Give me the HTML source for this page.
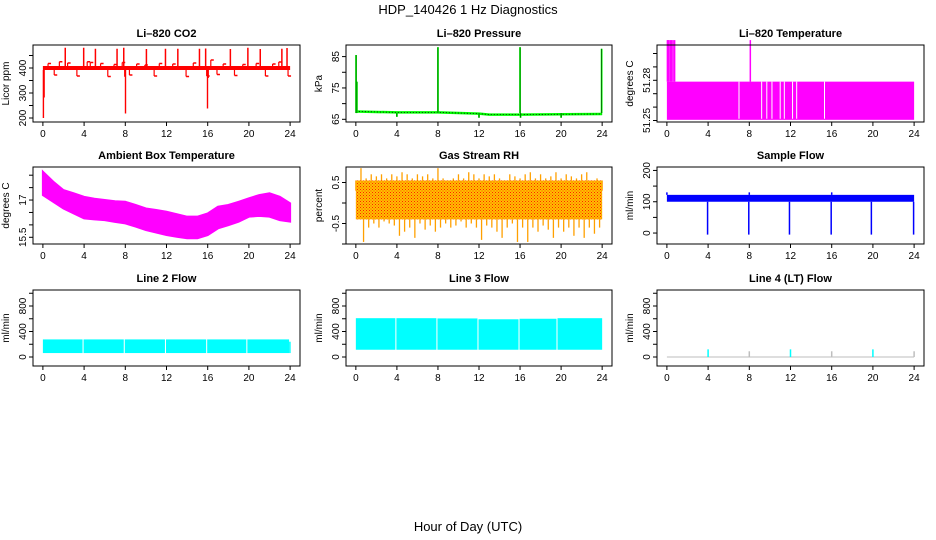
<!DOCTYPE html>
<html><head><meta charset="utf-8"><style>
html,body{margin:0;padding:0;background:#fff}
svg{display:block}
text{font-family:"Liberation Sans",Arial,sans-serif;fill:#000}
</style></head><body>
<svg id="c" width="936" height="540" viewBox="0 0 936 540">
<defs>
<pattern id="rhPat" width="3" height="3" patternUnits="userSpaceOnUse">
<rect width="3" height="3" fill="#ffc000"/><rect width="1" height="1" fill="#ff2000"/><rect x="1.5" y="1.5" width="1" height="1" fill="#ff4000"/>
</pattern>
</defs>
<text x="468" y="14" font-size="13" text-anchor="middle">HDP_140426  1 Hz Diagnostics</text>
<text x="468" y="531" font-size="13" text-anchor="middle">Hour of Day (UTC)</text>
</svg>
<script>
// ---- data ----
const xTicks = [0,4,8,12,16,20,24];
// CO2
const co2BandLow = 392, co2BandHigh = 408;
const co2SpikeHours = [2.17,3.96,5.1,7.2,7.85,10.05,11.9,13.1,15.2,15.8,18.2,19.9,21.1,23.2,23.7];
const co2SpikeValues = [481,481,477,477,481,476,477,477,477,478,476,481,476,477,480];
const co2BumpHours = [0.5,1.1,1.6,2.4,3.3,4.3,4.6,5.6,6.3,6.9,7.7,8.4,9.1,9.9,10.8,11.3,12.6,13.9,14.6,15.9,16.3,16.9,17.5,18.6,19.4,20.7,21.6,22.3,22.9,23.8];
const co2BumpValues = [418,372,425,420,368,425,422,418,366,414,422,372,416,412,368,418,416,366,420,368,432,374,416,370,414,418,368,416,424,368];
const co2DownHours = [0.05,0.12,8.02,15.98,7.95,16.05];
const co2DownValues = [200,282,218,238,365,360];
// Pressure
const pHours = [0,4,8,12,13,16,20,24];
const pValues = [67.5,67.2,67.2,66.8,66.5,66.5,66.6,66.7];
const pSpikeHours = [0.02,0.1,8.0,16.0,23.95,4.0,12.0,16.05,20.0];
const pSpikeValues = [85.5,77,88,88,87.5,65.8,65.5,65.5,65.5];
// Li-820 temperature
const tLow = 51.2505, tHigh = 51.279;
const tGapHours = [7.0,9.2,9.7,10.2,11.0,11.4,12.2,12.6,15.3];
const tSpikeHours = [0.05,0.12,0.2,0.35,0.45,0.6,0.75,8.1];
const tSpikeValues = [51.31,51.31,51.31,51.31,51.31,51.31,51.31,51.31];
// Ambient box temperature (hourly envelope)
const ambUpper = [18.14,17.74,17.40,17.27,17.13,17.05,17.0,16.95,16.93,16.8,16.66,16.6,16.53,16.43,16.33,16.33,16.46,16.73,16.80,16.93,17.07,17.20,17.27,17.13,16.87];
const ambLower = [17.2,16.93,16.66,16.46,16.26,16.22,16.19,16.12,16.06,15.93,15.79,15.69,15.59,15.52,15.46,15.46,15.59,15.86,15.99,16.13,16.33,16.36,16.33,16.19,16.13];
// Gas stream RH (half-hourly extremes)
const rhCoreLow = -0.4, rhCoreHigh = 0.55;
const rhUpper = [0.3,0.85,0.6,0.7,0.65,0.7,0.6,0.7,0.65,0.75,0.7,0.6,0.7,0.65,0.7,0.6,0.85,0.6,0.55,0.6,0.7,0.6,0.75,0.7,0.6,0.7,0.65,0.7,0.6,0.55,0.7,0.65,0.6,0.7,0.75,0.6,0.7,0.6,0.65,0.75,0.6,0.7,0.65,0.6,0.7,0.75,0.55,0.6,0.3];
const rhLower = [-0.4,-0.95,-0.6,-0.5,-0.6,-0.45,-0.5,-0.55,-0.8,-0.7,-0.6,-0.85,-0.5,-0.65,-0.55,-0.7,-0.6,-0.5,-0.6,-0.55,-0.45,-0.6,-0.5,-0.6,-0.9,-0.55,-0.6,-0.7,-0.85,-0.6,-0.5,-0.95,-0.6,-0.95,-0.6,-0.7,-0.55,-0.65,-0.85,-0.6,-0.7,-0.6,-0.8,-0.6,-0.85,-0.6,-0.75,-0.6,-0.4];
// Sample flow
const sfLow = 100, sfHigh = 122;
const sfDropHours = [3.95,7.95,11.9,15.95,19.85,23.95];
const sfDropValues = [-5,-5,-5,-5,-5,-5];
const sfPeakHours = [0,8,16];
const sfPeakValues = [130,130,130];
// Line 2 flow
const l2Starts = [0,3.95,7.95,11.95,15.95,19.85];
const l2Ends = [3.85,7.85,11.85,15.85,19.75,23.9];
const l2Top = [276,276,276,276,276,276];
const l2Bottom = [62,62,62,62,62,62];
// Line 3 flow
const l3Starts = [0,3.95,7.95,11.95,15.95,19.65];
const l3Ends = [3.85,7.85,11.85,15.85,19.55,24];
const l3Top = [609,609,605,592,600,609];
const l3Bottom = [114,114,114,114,114,114];
// Line 4 flow
const l4SpikeHours = [4,12,20,8,16,24];
const l4SpikeValues = [120,120,120,90,90,90];

// ---- drawing ----
const svg = document.getElementById('c');
const NS = 'http://www.w3.org/2000/svg';
function mk(tag, at, parent){const e=document.createElementNS(NS,tag);for(const k in at)e.setAttribute(k,at[k]);(parent||svg).appendChild(e);return e;}
const colX = [[33,300],[346,612],[657,924]];
const rowY = [[45,122],[167,244],[290,366]];

function panel(c,r,name,title,ylab,yMin,yMax,yTicks,yLabels){
  const [x0,x1]=colX[c],[y0,y1]=rowY[r];
  const g=mk('g',{});
  
  
  const dx0=x0+(x1-x0)*0.96/25.92;
  const sx=h=>dx0+h*(x1-x0)/25.92;
  const sy=v=>y1-(v-yMin)/(yMax-yMin)*(y1-y0);
  const t=mk('text',{x:(x0+x1)/2,y:y0-8,'font-size':11,'font-weight':'bold','text-anchor':'middle'},g);
  t.textContent=title;
  
  
  const yl=mk('text',{x:0,y:0,'font-size':10,'text-anchor':'middle',transform:`translate(${x0-24},${(y0+y1)/2}) rotate(-90)`},g);
  yl.textContent=ylab;
  
  
  const plot=mk('g',{},g);
  
  
  const ax=mk('g',{stroke:'#000','stroke-width':1},g);
  
  
  mk('rect',{x:x0,y:y0,width:x1-x0,height:y1-y0,fill:'none'},ax);
  xTicks.forEach(h=>{
    mk('line',{x1:sx(h),x2:sx(h),y1:y1,y2:y1+4},ax);
    const tl=mk('text',{x:sx(h),y:y1+15,'font-size':10,'text-anchor':'middle',stroke:'none'},g);
    tl.textContent=h;
    
    
  });
  yTicks.forEach(v=>mk('line',{x1:x0-4,x2:x0,y1:sy(v),y2:sy(v)},ax));
  yLabels.forEach(v=>{
    const tl=mk('text',{x:0,y:0,'font-size':10,'text-anchor':'middle',transform:`translate(${x0-7},${sy(v)}) rotate(-90)`},g);
    tl.textContent=v;
    
    
  });
  return {sx,sy,g:plot};
}
function vline(p,h,v1,v2,col,w){mk('line',{x1:p.sx(h),x2:p.sx(h),y1:p.sy(v1),y2:p.sy(v2),stroke:col,'stroke-width':w||1.2},p.g);}
function band(p,h1,h2,v1,v2,fill){mk('rect',{x:p.sx(h1),y:p.sy(v2),width:p.sx(h2)-p.sx(h1),height:p.sy(v1)-p.sy(v2),fill:fill},p.g);}

// CO2
let p=panel(0,0,'co2-panel','Li\u2013820 CO2','Licor ppm',184,492,[200,250,300,350,400,450],[200,300,400]);
band(p,0,24,co2BandLow,co2BandHigh,'#ff0000');
co2SpikeHours.forEach((h,i)=>vline(p,h,co2BandHigh,co2SpikeValues[i],'#ff0000',1.5));
co2BumpHours.forEach((h,i)=>{vline(p,h,400,co2BumpValues[i],'#ff0000',1.2);mk('line',{x1:p.sx(h),x2:p.sx(h)+3,y1:p.sy(co2BumpValues[i]),y2:p.sy(co2BumpValues[i]),stroke:'#ff0000','stroke-width':1.5},p.g);});
co2DownHours.forEach((h,i)=>vline(p,h,co2BandLow,co2DownValues[i],'#ff0000',1.4));

// Pressure
p=panel(1,0,'pressure-panel','Li\u2013820 Pressure','kPa',64.14,88.7,[65,70,75,80,85],[65,75,85]);
mk('polyline',{points:pHours.map((h,i)=>p.sx(h)+','+p.sy(pValues[i])).join(' '),fill:'none',stroke:'#00ff00','stroke-width':2.5},p.g);
mk('polyline',{points:pHours.map((h,i)=>p.sx(h)+','+p.sy(pValues[i])).join(' '),fill:'none',stroke:'#000','stroke-width':0.8,'stroke-dasharray':'1 2'},p.g);
pSpikeHours.forEach((h,i)=>{vline(p,h,67,pSpikeValues[i],'#00ff00',1.8);vline(p,h,67,pSpikeValues[i],'#000',0.5);});

// Li-820 Temperature
p=panel(2,0,'li820-temperature-panel','Li\u2013820 Temperature','degrees C',51.25-1.5/1340,51.25+75.5/1340,[51.25,51.26,51.27,51.28,51.29,51.30],[51.25,51.28]);
band(p,0,24,tLow,tHigh,'#ff00ff');
tGapHours.forEach(h=>vline(p,h,tLow+0.0008,tHigh,'#ffffff',1));
tSpikeHours.forEach((h,i)=>vline(p,h,tHigh,tSpikeValues[i],'#ff00ff',1.5));

// Ambient
p=panel(0,1,'ambient-temperature-panel','Ambient Box Temperature','degrees C',15.23,18.33,[15.5,16,16.5,17,17.5,18],[15.5,17.0]);
{const pts=[];ambUpper.forEach((v,i)=>pts.push(p.sx(i)+','+p.sy(v)));for(let i=ambLower.length-1;i>=0;i--)pts.push(p.sx(i)+','+p.sy(ambLower[i]));
mk('polygon',{points:pts.join(' '),fill:'#ff00ff',stroke:'#ff00ff','stroke-width':2}, p.g);}

// RH
p=panel(1,1,'gas-stream-rh-panel','Gas Stream RH','percent',-1.0,0.878,[-1,-0.5,0,0.5],[-0.5,0.5]);
band(p,0,24,rhCoreLow,rhCoreHigh,'url(#rhPat)');
rhUpper.forEach((v,i)=>{const h=i*0.5;vline(p,h,rhCoreHigh,v,'#ffa000',1.3);});
rhLower.forEach((v,i)=>{const h=i*0.5+0.25;if(h<=24){vline(p,h,rhCoreLow,v,'#ffa000',1.3);}});

// Sample flow
p=panel(2,1,'sample-flow-panel','Sample Flow','ml/min',-35,211,[0,50,100,150,200],[0,100,200]);
band(p,0,24,sfLow,sfHigh,'#0000ff');
sfDropHours.forEach((h,i)=>vline(p,h,sfLow,sfDropValues[i],'#0000ff',1.5));
sfPeakHours.forEach((h,i)=>vline(p,h,sfHigh,sfPeakValues[i],'#0000ff',1.5));

// Line 2
p=panel(0,2,'line2-flow-panel','Line 2 Flow','ml/min',-141,1051,[0,200,400,600,800,1000],[0,400,800]);
l2Starts.forEach((s,i)=>band(p,s,l2Ends[i],l2Bottom[i],l2Top[i],'#00ffff'));
vline(p,23.98,62,240,'#00ffff',1.5);

// Line 3
p=panel(1,2,'line3-flow-panel','Line 3 Flow','ml/min',-141,1051,[0,200,400,600,800,1000],[0,400,800]);
l3Starts.forEach((s,i)=>band(p,s,l3Ends[i],l3Bottom[i],l3Top[i],'#00ffff'));

// Line 4
p=panel(2,2,'line4-flow-panel','Line 4 (LT) Flow','ml/min',-141,1051,[0,200,400,600,800,1000],[0,400,800]);
mk('line',{x1:p.sx(0),x2:p.sx(24),y1:p.sy(0),y2:p.sy(0),stroke:'#bebebe','stroke-width':1},p.g);
l4SpikeHours.forEach((h,i)=>vline(p,h,0,l4SpikeValues[i],i<3?'#00ffff':'#bebebe',1.5));
</script>
</body></html>
